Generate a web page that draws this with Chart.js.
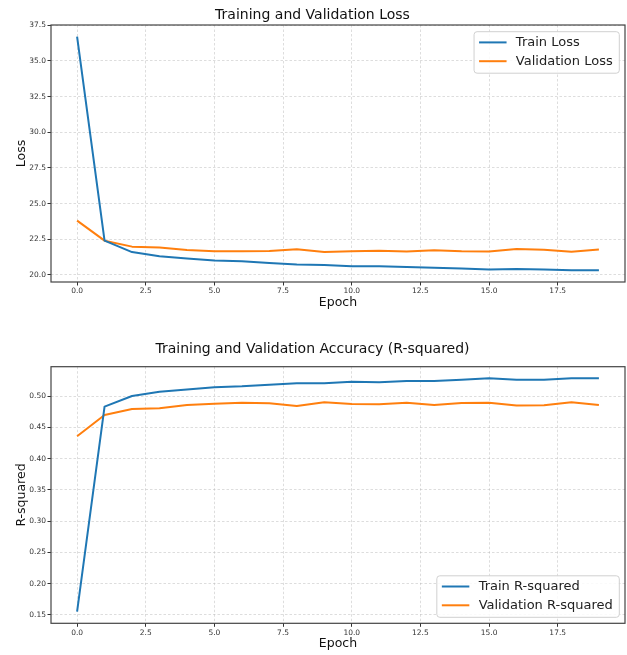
<!DOCTYPE html>
<html>
<head>
<meta charset="utf-8">
<script src="https://cdn.jsdelivr.net/npm/chart.js@4.4.1/dist/chart.umd.min.js"></script>
<style>
    body { margin: 0; background: #fff; }
    #wrap { position: relative; width: 627px; height: 655px; }
    canvas { position: absolute; left: 0; }
</style>
</head>
<body>
<div id="wrap">
    <canvas id="lossChart" width="627" height="320" style="top:0;width:627px;height:320px"></canvas>
    <canvas id="r2Chart" width="627" height="335" style="top:320px;width:627px;height:335px"></canvas>
</div>
<script>
//-------------
//- DATA
//-------------
var epochs = [0, 1, 2, 3, 4, 5, 6, 7, 8, 9, 10, 11, 12, 13, 14, 15, 16, 17, 18, 19];
var trainLoss = [36.7, 22.4, 21.6, 21.3, 21.15, 21.0, 20.96, 20.83, 20.72, 20.7, 20.6, 20.61, 20.55, 20.5, 20.44, 20.38, 20.42, 20.38, 20.32, 20.32];
var valLoss = [23.8, 22.4, 21.98, 21.92, 21.74, 21.65, 21.65, 21.67, 21.8, 21.6, 21.65, 21.69, 21.64, 21.72, 21.65, 21.64, 21.82, 21.77, 21.62, 21.78];
var trainR2 = [0.155, 0.4835, 0.5006, 0.5075, 0.511, 0.5144, 0.516, 0.5187, 0.5208, 0.521, 0.5235, 0.5225, 0.5245, 0.5245, 0.5266, 0.5288, 0.5266, 0.5266, 0.5288, 0.5288];
var valR2 = [0.436, 0.4702, 0.4798, 0.4808, 0.4862, 0.4883, 0.4899, 0.4889, 0.4846, 0.4905, 0.4878, 0.4873, 0.4899, 0.4862, 0.4894, 0.4899, 0.4852, 0.4857, 0.4905, 0.4862];

var xTicks = [0, 2.5, 5, 7.5, 10, 12.5, 15, 17.5];
var lossTicks = [20, 22.5, 25, 27.5, 30, 32.5, 35, 37.5];
var r2Ticks = [0.15, 0.2, 0.25, 0.3, 0.35, 0.4, 0.45, 0.5];

var COLOR_TRAIN = "#1f77b4";
var COLOR_VAL = "#ff7f0e";
var FONT = "DejaVu Sans";
var GRID_COLOR = "rgba(180,180,180,0.45)";

function toPoints(values) {
    var pts = [];
    for (var i = 0; i < values.length; i++) {
        pts.push({ x: epochs[i], y: values[i] });
    }
    return pts;
}

// matplotlib style 5% margins
function padRange(a, b) {
    var lo = Math.min(Math.min.apply(null, a), Math.min.apply(null, b));
    var hi = Math.max(Math.max.apply(null, a), Math.max.apply(null, b));
    var m = (hi - lo) * 0.05;
    return [lo - m, hi + m];
}

//- frame round the plot area, like the mpl spines
var framePlugin = {
    id: "frame",
    afterDatasetsDraw: function (chart) {
        var a = chart.chartArea, ctx = chart.ctx;
        ctx.save();
        ctx.strokeStyle = "#444";
        ctx.lineWidth = 1.2;
        ctx.strokeRect(a.left, a.top, a.right - a.left, a.bottom - a.top);
        ctx.restore();
    }
};

//- legend box inside the plot area
var boxLegendPlugin = {
    id: "boxLegend",
    afterDraw: function (chart, args, opts) {
        var a = chart.chartArea, ctx = chart.ctx;
        var sets = chart.data.datasets;
        ctx.save();
        ctx.font = "13px '" + FONT + "'";
        var tw = 0;
        for (var i = 0; i < sets.length; i++) {
            tw = Math.max(tw, ctx.measureText(sets[i].label).width);
        }
        var w = 5 + 27.5 + 9.3 + tw + 6.6;
        var h = 41.5;
        var x = a.right - 5.7 - w;
        var y = opts.corner === "bottom" ? a.bottom - 6 - h : a.top + 6.7;

        ctx.beginPath();
        ctx.roundRect(x, y, w, h, 3);
        ctx.fillStyle = "rgba(255,255,255,0.85)";
        ctx.fill();
        ctx.strokeStyle = "#d0d0d0";
        ctx.lineWidth = 1;
        ctx.stroke();

        ctx.textBaseline = "middle";
        ctx.textAlign = "left";
        for (var j = 0; j < sets.length; j++) {
            var ry = y + 10.7 + j * 18.8;
            ctx.strokeStyle = sets[j].borderColor;
            ctx.lineWidth = 2;
            ctx.beginPath();
            ctx.moveTo(x + 5, ry);
            ctx.lineTo(x + 5 + 27.5, ry);
            ctx.stroke();
            ctx.fillStyle = "#222";
            ctx.fillText(sets[j].label, x + 5 + 27.5 + 9.3, ry);
        }
        ctx.restore();
    }
};

function buildChart(canvasId, cfg) {
    var ctx = document.getElementById(canvasId).getContext("2d");
    var range = padRange(cfg.train, cfg.val);
    return new Chart(ctx, {
        type: "line",
        data: {
            datasets: [
                {
                    label: cfg.trainLabel,
                    data: toPoints(cfg.train),
                    borderColor: COLOR_TRAIN,
                    backgroundColor: COLOR_TRAIN,
                    borderWidth: 2,
                    pointRadius: 0,
                    tension: 0,
                    borderJoinStyle: "round"
                },
                {
                    label: cfg.valLabel,
                    data: toPoints(cfg.val),
                    borderColor: COLOR_VAL,
                    backgroundColor: COLOR_VAL,
                    borderWidth: 2,
                    pointRadius: 0,
                    tension: 0,
                    borderJoinStyle: "round"
                }
            ]
        },
        options: {
            responsive: false,
            animation: false,
            devicePixelRatio: 1,
            layout: { padding: { left: 0, right: 2, top: 0, bottom: 0 } },
            plugins: {
                legend: { display: false },
                tooltip: { enabled: false },
                title: {
                    display: true,
                    text: cfg.title,
                    color: "#111",
                    font: { family: FONT, size: 14, weight: "normal" },
                    padding: cfg.titlePad
                },
                boxLegend: { corner: cfg.legendCorner }
            },
            scales: {
                x: {
                    type: "linear",
                    min: -0.95,
                    max: 19.95,
                    afterBuildTicks: function (s) {
                        s.ticks = xTicks.map(function (v) { return { value: v }; });
                    },
                    afterFit: function (s) { s.height = cfg.xHeight; },
                    ticks: {
                        color: "#333",
                        font: { family: FONT, size: 7.5 },
                        padding: 1.5,
                        maxRotation: 0,
                        autoSkip: false,
                        callback: function (v) { return v.toFixed(1); }
                    },
                    grid: {
                        color: GRID_COLOR,
                        tickColor: "#333",
                        tickLength: 3.5,
                        tickWidth: 1
                    },
                    border: { display: false, dash: [2.5, 2] },
                    title: {
                        display: true,
                        text: "Epoch",
                        color: "#111",
                        font: { family: FONT, size: 12.5 },
                        padding: { top: 0, bottom: cfg.xTitlePad }
                    }
                },
                y: {
                    type: "linear",
                    min: range[0],
                    max: range[1],
                    afterBuildTicks: function (s) {
                        s.ticks = cfg.yTicks.map(function (v) { return { value: v }; });
                    },
                    afterFit: function (s) { s.width = 51; },
                    ticks: {
                        color: "#333",
                        font: { family: FONT, size: 7.5 },
                        padding: 1.5,
                        autoSkip: false,
                        callback: function (v) { return v.toFixed(cfg.decimals); }
                    },
                    grid: {
                        color: GRID_COLOR,
                        tickColor: "#333",
                        tickLength: 3.5,
                        tickWidth: 1
                    },
                    border: { display: false, dash: [2.5, 2] },
                    title: {
                        display: true,
                        text: cfg.yLabel,
                        color: "#111",
                        font: { family: FONT, size: 12.5 },
                        padding: { top: 14.5, bottom: 0 }
                    }
                }
            }
        },
        plugins: [framePlugin, boxLegendPlugin]
    });
}

buildChart("lossChart", {
    title: "Training and Validation Loss",
    titlePad: { top: 7, bottom: 1.2 },
    train: trainLoss,
    val: valLoss,
    trainLabel: "Train Loss",
    valLabel: "Validation Loss",
    yLabel: "Loss",
    yTicks: lossTicks,
    decimals: 1,
    xHeight: 38,
    xTitlePad: 9.7,
    legendCorner: "top"
});

buildChart("r2Chart", {
    title: "Training and Validation Accuracy (R-squared)",
    titlePad: { top: 21.3, bottom: 8.6 },
    train: trainR2,
    val: valR2,
    trainLabel: "Train R-squared",
    valLabel: "Validation R-squared",
    yLabel: "R-squared",
    yTicks: r2Ticks,
    decimals: 2,
    xHeight: 31.7,
    xTitlePad: 3.7,
    legendCorner: "bottom"
});
</script>
</body>
</html>
